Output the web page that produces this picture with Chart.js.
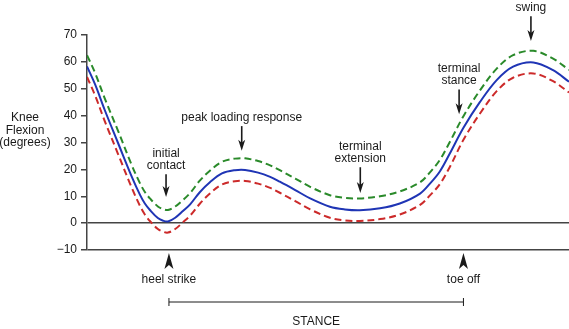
<!DOCTYPE html>
<html>
<head>
<meta charset="utf-8">
<script src="https://cdn.jsdelivr.net/npm/chart.js@4.4.0/dist/chart.umd.min.js"></script>
<style>
  html, body { margin: 0; padding: 0; background: #fff; }
  canvas { display: block; }
</style>
</head>
<body>
<canvas id="knee" width="569" height="329"></canvas>
<script>
// Position in the gait cycle (% of cycle)
const gaitPct = [0, 1.7, 3.7, 6.4, 9.3, 11.0, 12.0, 13.1, 14.7, 15.8, 16.8, 18.3, 19.9, 21.4, 23.4, 25.5, 28.0,
  30.7, 32.8, 35.5, 38.0, 40.0, 43.2, 46.3, 50.4, 53.5, 56.6, 60.8, 64.9, 69.1, 71.2, 73.2, 75.3, 78.1, 81.5,
  85.0, 88.4, 92.6, 96.7, 100];

// Knee flexion (degrees): mean curve and upper / lower bands
const kneeMean = [58.3, 51.5, 42.0, 30.0, 17.2, 10.5, 7.3, 4.8, 1.9, 0.9, 0.6, 2.0, 4.5, 7.0, 11.5, 15.2, 18.5,
  19.7, 19.8, 18.8, 17.2, 15.4, 12.3, 9.2, 6.1, 5.1, 4.8, 5.5, 7.3, 11.0, 14.8, 19.2, 26.0, 35.5, 45.0,
  53.2, 58.2, 59.8, 56.9, 52.6];
const kneeUpper = [62.5, 55.8, 46.3, 34.5, 21.5, 14.8, 11.6, 9.1, 6.2, 5.2, 4.9, 6.2, 8.6, 11.2, 15.8, 19.5, 22.8,
  24.0, 24.1, 23.1, 21.5, 19.7, 16.6, 13.5, 10.4, 9.4, 9.2, 10.0, 11.8, 15.2, 19.0, 23.5, 30.3, 39.8, 49.3,
  57.5, 62.5, 64.1, 61.2, 57.0];
const kneeLower = [54.4, 47.4, 37.9, 25.9, 13.1, 6.4, 3.2, 0.7, -2.2, -3.2, -3.5, -2.2, 0.3, 2.8, 7.2, 11.0, 14.4,
  15.6, 15.7, 14.7, 13.1, 11.3, 8.2, 5.1, 2.0, 1.0, 0.8, 1.5, 3.2, 6.8, 10.4, 14.5, 21.0, 31.0, 40.7,
  49.1, 54.1, 55.7, 52.8, 48.6];

// Callouts above the curves: label lines, gait %, arrow start and tip (degrees)
const calloutText = [['initial', 'contact'], ['peak loading response'], ['terminal', 'extension'], ['terminal', 'stance'], ['swing']];
const calloutPct = [16.4, 32.1, 56.7, 77.2, 92.1];
const calloutFrom = [18.2, 36.1, 20.8, 49.7, 77.0];
const calloutTo = [9.7, 26.9, 11.2, 40.5, 67.8];

// Gait events under the axis and the stance phase between them
const eventText = ['heel strike', 'toe off'];
const eventPct = [17.0, 78.1];
const phaseText = 'STANCE';

const axisTitle = ['Knee', 'Flexion', '(degrees)'];

const FONT = '12px "Liberation Sans", Arial, sans-serif';
const INK = '#1a1a1a';

function toPoints(values) {
    return gaitPct.map((x, i) => ({ x: x, y: values[i] }));
}

// Draws the axis title, arrows and phase labels
const annotate = {
    id: 'annotate',
    afterDraw(chart) {
        const { ctx, chartArea } = chart;
        const x = chart.scales.x;
        const y = chart.scales.y;
        ctx.save();
        ctx.fillStyle = INK;
        ctx.strokeStyle = INK;
        ctx.font = FONT;
        ctx.textAlign = 'center';
        ctx.textBaseline = 'middle';

        // y axis title, horizontal
        const titleY = y.getPixelForValue(34.5);
        axisTitle.forEach((t, i) => ctx.fillText(t, 25, titleY + (i - 1) * 12.5));

        // callouts with down arrows
        calloutText.forEach((lines, i) => {
            const px = x.getPixelForValue(calloutPct[i]);
            const top = y.getPixelForValue(calloutFrom[i]);
            const tip = y.getPixelForValue(calloutTo[i]);
            lines.forEach((t, j) => {
                ctx.fillText(t, px, top - 8.5 - (lines.length - 1 - j) * 12.5);
            });
            ctx.lineWidth = 1.6;
            ctx.beginPath();
            ctx.moveTo(px, top);
            ctx.lineTo(px, tip - 6);
            ctx.stroke();
            ctx.beginPath();
            ctx.moveTo(px, tip);
            ctx.lineTo(px - 3.5, tip - 11);
            ctx.lineTo(px, tip - 8);
            ctx.lineTo(px + 3.5, tip - 11);
            ctx.closePath();
            ctx.fill();
        });

        // events below the axis
        const base = chartArea.bottom;
        eventText.forEach((t, i) => {
            const px = x.getPixelForValue(eventPct[i]);
            ctx.beginPath();
            ctx.moveTo(px, base + 3);
            ctx.lineTo(px + 4.5, base + 19);
            ctx.lineTo(px, base + 15);
            ctx.lineTo(px - 4.5, base + 19);
            ctx.closePath();
            ctx.fill();
            ctx.fillText(t, px, base + 30);
        });

        // stance bar
        const x0 = x.getPixelForValue(eventPct[0]);
        const x1 = x.getPixelForValue(eventPct[1]);
        const barY = base + 52;
        ctx.lineWidth = 1;
        ctx.beginPath();
        ctx.moveTo(x0, barY);
        ctx.lineTo(x1, barY);
        ctx.moveTo(x0, barY - 4);
        ctx.lineTo(x0, barY + 4);
        ctx.moveTo(x1, barY - 4);
        ctx.lineTo(x1, barY + 4);
        ctx.stroke();
        ctx.fillText(phaseText, (x0 + x1) / 2, base + 72);
        ctx.restore();
    }
};

const chart = new Chart(document.getElementById('knee'), {
    type: 'line',
    data: {
        datasets: [
            {
                label: 'upper',
                data: toPoints(kneeUpper),
                borderColor: '#2a8a2a',
                borderWidth: 2,
                borderDash: [7, 4],
                pointRadius: 0,
                tension: 0.35
            },
            {
                label: 'lower',
                data: toPoints(kneeLower),
                borderColor: '#cc2a2a',
                borderWidth: 2,
                borderDash: [7, 4],
                pointRadius: 0,
                tension: 0.35
            },
            {
                label: 'mean',
                data: toPoints(kneeMean),
                borderColor: '#1f35b5',
                borderWidth: 2,
                pointRadius: 0,
                tension: 0.35
            }
        ]
    },
    options: {
        responsive: false,
        animation: false,
        events: [],
        layout: { padding: { top: 35, bottom: 79, left: 0, right: 0 } },
        plugins: {
            legend: { display: false },
            tooltip: { enabled: false }
        },
        scales: {
            x: { type: 'linear', min: 0, max: 100, display: false },
            y: {
                min: -10,
                max: 70,
                ticks: {
                    stepSize: 10,
                    color: INK,
                    padding: 4,
                    font: { family: '"Liberation Sans", Arial, sans-serif', size: 12 },
                    callback: v => v < 0 ? '\u2212' + Math.abs(v) : v
                },
                grid: {
                    drawOnChartArea: true,
                    color: ctx => (ctx.tick && (ctx.tick.value === 0 || ctx.tick.value === -10)) ? '#444' : 'rgba(0,0,0,0)',
                    tickColor: '#444',
                    tickLength: 6,
                    lineWidth: 1.5
                },
                border: { color: '#444', width: 1.5 },
                afterFit: s => { s.width = 87; }
            }
        }
    },
    plugins: [annotate]
});
</script>
</body>
</html>
